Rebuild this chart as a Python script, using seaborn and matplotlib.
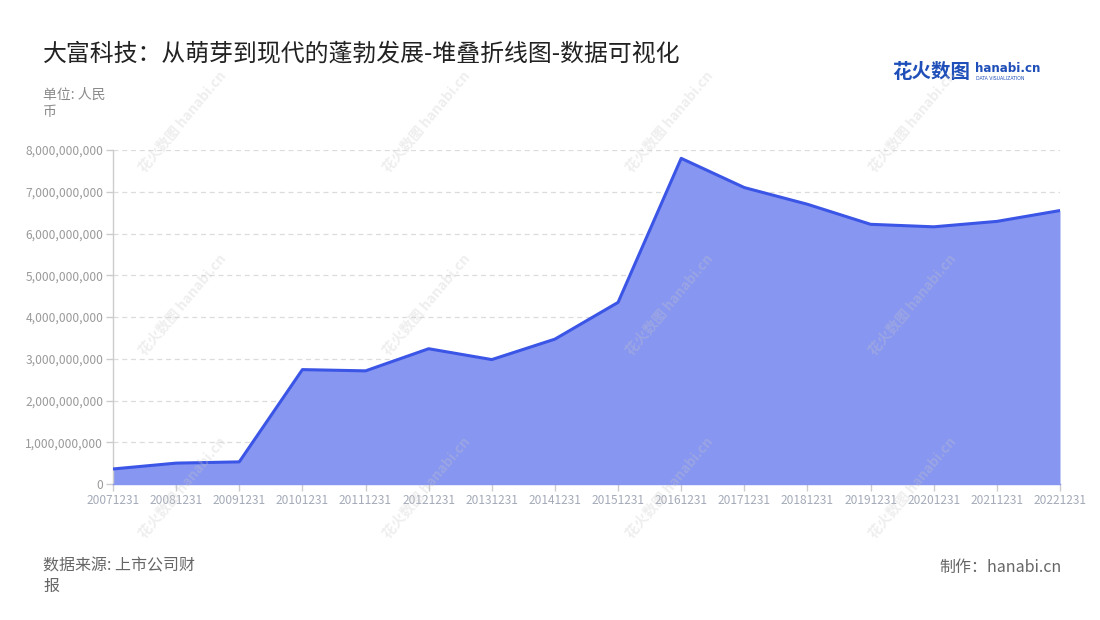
import numpy as np
import pandas as pd
import seaborn as sns
import matplotlib.pyplot as plt
from matplotlib.ticker import FuncFormatter

# dati
anni = ['20071231', '20081231', '20091231', '20101231', '20111231', '20121231',
        '20131231', '20141231', '20151231', '20161231', '20171231', '20181231',
        '20191231', '20201231', '20211231', '20221231']
valori = [0.36e9, 0.50e9, 0.53e9, 2.74e9, 2.71e9, 3.24e9,
          2.98e9, 3.47e9, 4.35e9, 7.80e9, 7.10e9, 6.70e9,
          6.22e9, 6.16e9, 6.29e9, 6.55e9]
y_ticks = [0, 1e9, 2e9, 3e9, 4e9, 5e9, 6e9, 7e9, 8e9]

titolo = '大富科技：从萌芽到现代的蓬勃发展-堆叠折线图-数据可视化'
unita = '单位: 人民\n币'
fonte = '数据来源: 上市公司财\n报'
autore = '制作：hanabi.cn'

df = pd.DataFrame({'pos': range(len(anni)), 'anno': anni, 'valore': valori})

sns.set_theme(style='white')
plt.rcParams['font.family'] = ['Noto Sans CJK SC', 'DejaVu Sans']

col_linea = '#3b55e6'
col_area = '#8796f0'

fig = plt.figure(figsize=(11, 6.2), dpi=100)
ax = fig.add_axes([113 / 1100, 1 - 484 / 620, (1060 - 113) / 1100, (484 - 150) / 620])

# area + linea
ax.fill_between(df['pos'], 0, df['valore'], color=col_area, linewidth=0, zorder=2)
sns.lineplot(data=df, x='pos', y='valore', color=col_linea, linewidth=2.2, ax=ax, zorder=3)

ax.set_xlim(0, len(anni) - 1)
ax.set_ylim(0, 8e9)
ax.set_xticks(df['pos'])
ax.set_xticklabels(df['anno'])
ax.set_yticks(y_ticks)
ax.yaxis.set_major_formatter(FuncFormatter(lambda v, p: f'{int(v):,}'))
ax.set_xlabel('')
ax.set_ylabel('')

# griglia tratteggiata
for t in y_ticks[1:]:
    ax.axhline(t, color='#dcdcdc', linestyle=(0, (4, 3)), linewidth=0.9, zorder=1)

for s in ['top', 'right']:
    ax.spines[s].set_visible(False)
ax.spines['left'].set_color('#cccccc')
ax.spines['left'].set_linewidth(1.0)
ax.spines['bottom'].set_color('#8796f0')
ax.spines['bottom'].set_linewidth(1.0)
ax.spines['bottom'].set_zorder(4)

ax.tick_params(axis='y', which='both', left=True, length=5, width=1, color='#cccccc',
               labelsize=8.7, labelcolor='#9a9a9a', pad=2)
ax.tick_params(axis='x', which='both', bottom=True, length=5, width=1, color='#cccccc',
               labelsize=8.6, labelcolor='#a4aab8', pad=2)

# filigrana
for cx in [183, 427, 670, 913]:
    for cy in [122, 305, 488]:
        fig.text(cx / 1100, 1 - cy / 620, '花火数图 hanabi.cn', rotation=50,
                 ha='center', va='center', fontsize=10, fontweight='bold',
                 color='#c8c8c8', alpha=0.3, zorder=10)

# testi
fig.text(43 / 1100, 1 - 55 / 620, titolo, fontsize=17.2, color='#222222',
         ha='left', va='center')
fig.text(43 / 1100, 1 - 88 / 620, unita, fontsize=10, color='#8a8a8a',
         ha='left', va='top', linespacing=1.3)
fig.text(43 / 1100, 1 - 558 / 620, fonte, fontsize=11.5, color='#666666',
         ha='left', va='top', linespacing=1.25)
fig.text(1062 / 1100, 1 - 567 / 620, autore, fontsize=11.5, color='#666666',
         ha='right', va='center')

# logo
fig.text(892 / 1100, 1 - 72 / 620, '花火数图', fontsize=14, fontweight='bold',
         color='#1f4fb8', ha='left', va='center')
fig.text(975 / 1100, 1 - 69 / 620, 'hanabi.cn', fontsize=8.6, fontweight='bold',
         color='#1f4fb8', ha='left', va='center', family=['DejaVu Sans'])
fig.text(976 / 1100, 1 - 79 / 620, 'DATA VISUALIZATION', fontsize=3.3,
         color='#1f4fb8', ha='left', va='center', family=['DejaVu Sans'])

fig.savefig('out.png', dpi=100)
